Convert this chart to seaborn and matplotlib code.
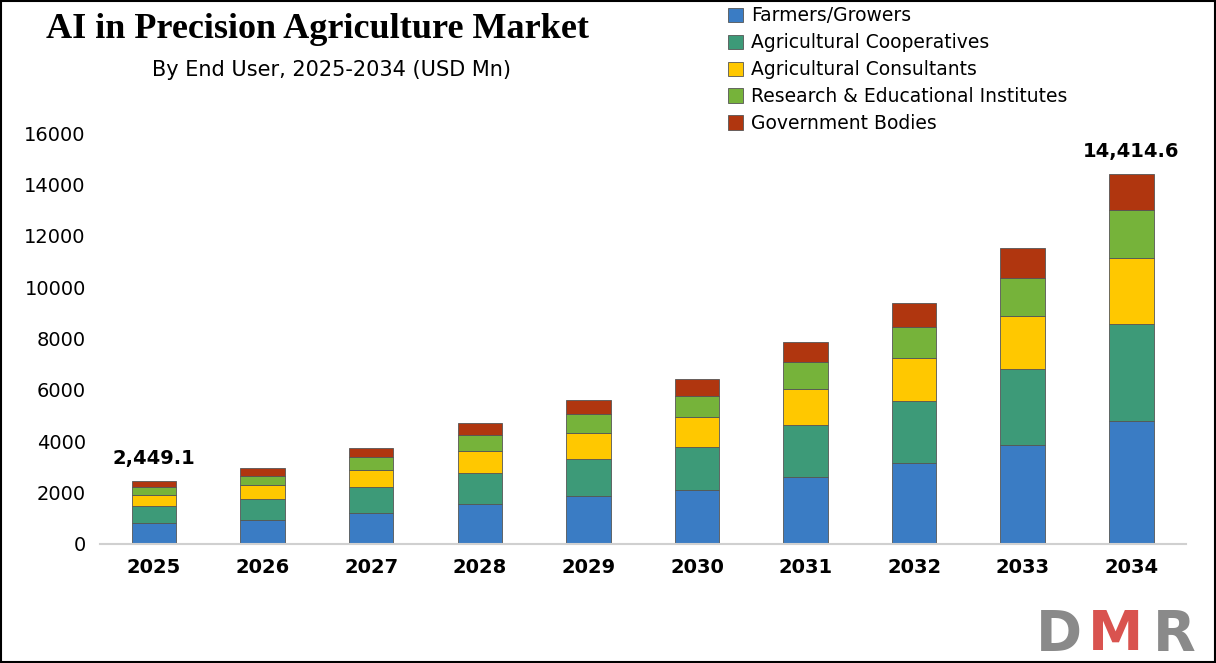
import numpy as np
import pandas as pd
import matplotlib
matplotlib.use("Agg")
import matplotlib.pyplot as plt
import seaborn as sns

years = ["2025", "2026", "2027", "2028", "2029", "2030", "2031", "2032", "2033", "2034"]
segments = ["Farmers/Growers", "Agricultural Cooperatives", "Agricultural Consultants",
            "Research & Educational Institutes", "Government Bodies"]
farmers = [800, 950, 1200, 1560, 1870, 2100, 2620, 3140, 3840, 4800]
cooperatives = [690, 800, 1020, 1190, 1430, 1660, 2010, 2440, 2960, 3760]
consultants = [420, 530, 680, 880, 1030, 1190, 1390, 1660, 2070, 2570]
research = [320, 370, 490, 600, 730, 810, 1070, 1220, 1480, 1870]
government = [219.1, 300, 360, 470, 540, 650, 760, 910, 1160, 1414.6]
colors = ["#3a7cc4", "#3d9a78", "#ffc800", "#76b33a", "#b0360f"]

series = [farmers, cooperatives, consultants, research, government]
totals = np.sum(series, axis=0)

fig = plt.figure(figsize=(12.16, 6.63), dpi=100)
ax = fig.add_axes([0.082, 0.1795, 0.893, 0.67])

bottom = np.zeros(len(years))
for name, vals, col in zip(segments, series, colors):
    df = pd.DataFrame({"year": years, "value": vals})
    sns.barplot(data=df, x="year", y="value", color=col, width=0.41, bottom=bottom,
                saturation=1, edgecolor="#555555", linewidth=0.6, label=name, ax=ax)
    bottom = bottom + np.array(vals)

ax.set_ylim(0, 17300)
ax.set_yticks(range(0, 16001, 2000))
ax.set_yticklabels([str(v) for v in range(0, 16001, 2000)], fontsize=14)
ax.set_xlabel("")
ax.set_ylabel("")
for lbl in ax.get_xticklabels():
    lbl.set_fontsize(14)
    lbl.set_fontweight("bold")
ax.tick_params(axis="both", length=0, pad=10)
for s in ["top", "right", "left"]:
    ax.spines[s].set_visible(False)
ax.spines["bottom"].set_color("#d0d0d0")
ax.spines["bottom"].set_linewidth(1.5)

for i in [0, len(years) - 1]:
    ax.text(i, totals[i] + 500, f"{totals[i]:,.1f}", ha="center", va="bottom",
            fontsize=14, fontweight="bold")

handles, labels = ax.get_legend_handles_labels()
ax.legend_.remove()
fig.legend(handles, labels, loc="upper left", bbox_to_anchor=(0.588, 1.01), frameon=False,
           fontsize=13.5, handlelength=0.8, handleheight=0.8,
           labelspacing=0.42, handletextpad=0.4, borderaxespad=0.3)

fig.text(0.261, 0.955, "AI in Precision Agriculture Market", ha="center", va="center",
         fontsize=26, fontweight="bold", family="Liberation Serif")
fig.text(0.273, 0.895, "By End User, 2025-2034 (USD Mn)", ha="center", va="center",
         fontsize=15)

# logo
fig.text(0.852, 0.02, "D", fontsize=40, fontweight="bold", color="#8a8a8a")
fig.text(0.895, 0.02, "M", fontsize=40, fontweight="bold", color="#d9534f")
fig.text(0.948, 0.02, "R", fontsize=40, fontweight="bold", color="#8a8a8a")

fig.patches.append(plt.Rectangle((0.001, 0.001), 0.998, 0.998, transform=fig.transFigure,
                                 fill=False, edgecolor="black", linewidth=1.5))

fig.savefig("out.png", dpi=100)
